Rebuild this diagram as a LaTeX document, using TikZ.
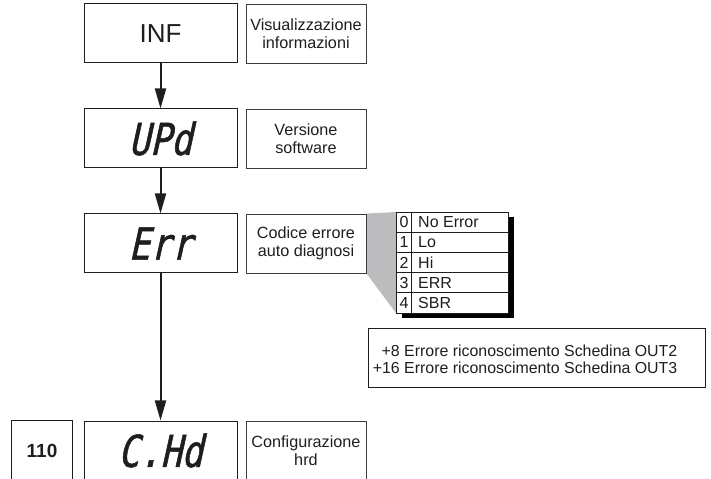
\documentclass[tikz,border=0pt]{standalone}
\usepackage{fontspec}
\setmainfont{Liberation Sans}
\newfontfamily\segfont[FakeSlant=0.22,FakeStretch=0.8,FakeBold=1.2]{DejaVu Sans Mono}
\usetikzlibrary{positioning,arrows.meta,shadows,backgrounds}
\definecolor{InkBlack}{RGB}{30,30,30}
\definecolor{FrameGray}{RGB}{60,60,60}
\definecolor{PanelGray}{RGB}{188,188,190}
\tikzset{
  flow/.style={-{Triangle[length=20bp,width=11bp]},line width=2bp,draw=InkBlack},
  display/.style={draw=InkBlack,line width=1bp,minimum width=153bp,minimum height=59bp,
    inner sep=0pt,text=InkBlack},
  segtext/.style={display,font=\segfont\fontsize{44bp}{44bp}\selectfont},
  descbox/.style={draw=FrameGray,line width=0.9bp,minimum width=120bp,minimum height=59bp,
    inner sep=0pt,align=center,text=InkBlack,font=\fontsize{16.2bp}{18.5bp}\selectfont},
  codebox/.style={draw=InkBlack,line width=1bp,minimum width=60bp,minimum height=60bp,
    inner sep=0pt,text=InkBlack,font=\bfseries\fontsize{19bp}{20bp}\selectfont},
  tablebox/.style={draw=InkBlack,line width=1bp,fill=white,minimum width=112bp,
    minimum height=101bp,inner sep=0pt,
    general shadow={fill=black,shadow xshift=5bp,shadow yshift=-5bp}},
  rowtext/.style={inner sep=0pt,text=InkBlack,font=\fontsize{16bp}{18bp}\selectfont},
  notebox/.style={draw=InkBlack,line width=1bp,minimum width=337bp,minimum height=59bp,inner sep=0pt},
  notetext/.style={inner sep=0pt,align=right,text=InkBlack,font=\fontsize{15.9bp}{17.5bp}\selectfont}
}

\begin{document}
\begin{tikzpicture}[x=1bp,y=1bp,node distance=45bp]
  \useasboundingbox (0,0) rectangle (711,479);

  % display column
  \node[display,font=\fontsize{26bp}{26bp}\selectfont] (inf) at (160.5,445.5) {INF};
  \node[segtext,below=of inf] (upd) {UPd};
  \node[segtext,below=of upd] (err) {Err};
  \node[segtext,below=147bp of err] (chd) {C.Hd};
  \node[codebox,left=11bp of chd] (code) {110};

  \draw[flow] (inf) -- (upd);
  \draw[flow] (upd) -- (err);
  \draw[flow] (err) -- (chd);

  % descriptions
  \node[descbox,right=8bp of inf] (infdesc) {Visualizzazione\\informazioni};
  \node[descbox,right=8bp of upd] (upddesc) {Versione\\software};
  \node[descbox,right=8bp of err] (errdesc) {Codice errore\\auto diagnosi};
  \node[descbox,right=8bp of chd] (chddesc) {Configurazione\\hrd};

  % error code table
  \node[tablebox,anchor=north west] (codes) at (396,267) {};
  \begin{scope}[on background layer]
    \fill[PanelGray] (errdesc.north east) -- (codes.north west)
      -- ([yshift=1bp]codes.south west) -- (errdesc.south east) -- cycle;
  \end{scope}
  \foreach \i/\lbl in {0/No Error,1/Lo,2/Hi,3/ERR,4/SBR} {
    \node[rowtext] (num\i) at ([xshift=8bp,yshift={-10.1bp-20.2bp*\i}]codes.north west) {\i};
    \node[rowtext,anchor=west] (lbl\i) at ([xshift=22bp,yshift={-10.1bp-20.2bp*\i}]codes.north west) {\lbl};
  }
  \foreach \i in {1,...,4}
    \draw[InkBlack,line width=0.8bp] ([yshift={-20.2bp*\i}]codes.north west) -- ([yshift={-20.2bp*\i}]codes.north east);
  \draw[InkBlack,line width=0.8bp] ([xshift=15bp]codes.north west) -- ([xshift=15bp]codes.south west);

  % extra error flags
  \node[notebox] (note) at (536.5,120.5) {};
  \node[notetext,anchor=east] (notelines) at ([xshift=-28bp,yshift=-1bp]note.east)
    {+8 Errore riconoscimento Schedina OUT2\\+16 Errore riconoscimento Schedina OUT3};
\end{tikzpicture}
\end{document}
